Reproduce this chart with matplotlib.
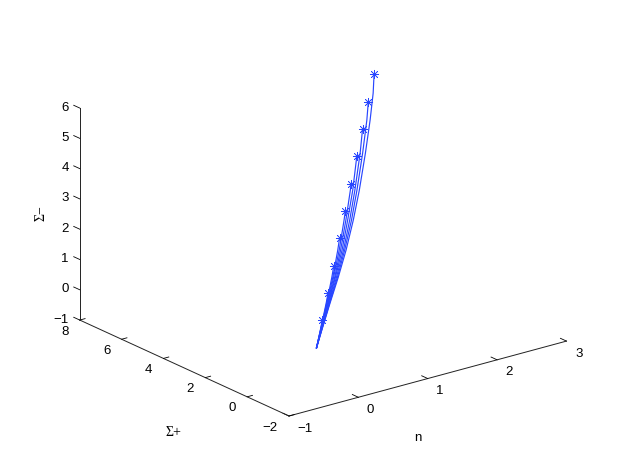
import matplotlib
matplotlib.use("Agg")
import matplotlib.pyplot as plt
from mpl_toolkits.mplot3d import proj3d

plt.rcParams['font.family'] = ['Liberation Sans', 'DejaVu Sans']
plt.rcParams['axes.unicode_minus'] = True

x_ticks = [-1, 0, 1, 2, 3]
y_ticks = [-2, 0, 2, 4, 6, 8]
z_ticks = [-1, 0, 1, 2, 3, 4, 5, 6]

n_1 = [2.70, 2.551, 2.317, 2.020, 1.676, 1.384, 1.078, .785, .494, .194, 0]
sp_1 = [6.20, 5.75, 5.12, 4.36, 3.51, 2.83, 2.16, 1.56, .99, .39, 0]
sm_1 = [5.40, 5.010, 4.462, 3.798, 3.058, 2.465, 1.878, 1.357, .859, .342, 0]
n_2 = [2.43, 2.276, 1.986, 1.648, 1.361, 1.061, .773, .488, .192, 0]
sp_2 = [5.58, 5.14, 4.38, 3.53, 2.84, 2.17, 1.56, .99, .39, 0]
sm_2 = [4.86, 4.481, 3.813, 3.071, 2.475, 1.886, 1.362, .862, .343, 0]
n_3 = [2.16, 1.953, 1.621, 1.338, 1.043, .762, .482, .190, 0]
sp_3 = [4.96, 4.39, 3.54, 2.85, 2.17, 1.57, .99, .39, 0]
sm_3 = [4.32, 3.828, 3.083, 2.486, 1.894, 1.368, .865, .344, 0]
n_4 = [1.89, 1.593, 1.315, 1.026, .750, .475, .188, 0]
sp_4 = [4.34, 3.55, 2.87, 2.18, 1.58, 1.00, .40, 0]
sm_4 = [3.78, 3.096, 2.496, 1.902, 1.373, .867, .345, 0]
n_5 = [1.62, 1.565, 1.292, 1.008, .739, .469, .186, 0]
sp_5 = [3.72, 3.57, 2.88, 2.19, 1.58, 1.00, .40, 0]
sm_5 = [3.24, 3.108, 2.507, 1.910, 1.378, .870, .346, 0]
n_6 = [1.35, 1.269, .991, .727, .463, .184, 0]
sp_6 = [3.10, 2.89, 2.20, 1.59, 1.00, .40, 0]
sm_6 = [2.70, 2.517, 1.918, 1.384, .873, .347, 0]
n_7 = [1.08, .973, .715, .457, .182, 0]
sp_7 = [2.48, 2.21, 1.59, 1.01, .40, 0]
sm_7 = [2.16, 1.925, 1.389, .876, .347, 0]
n_8 = [.81, .704, .451, .180, 0]
sp_8 = [1.86, 1.60, 1.01, .40, 0]
sm_8 = [1.62, 1.394, .879, .348, 0]
n_9 = [.54, .444, .178, 0]
sp_9 = [1.24, 1.01, .40, 0]
sm_9 = [1.08, .881, .349, 0]
n_10 = [.27, .176, 0]
sp_10 = [.62, .40, 0]
sm_10 = [.54, .350, 0]

curves = [(n_1, sp_1, sm_1), (n_2, sp_2, sm_2), (n_3, sp_3, sm_3), (n_4, sp_4, sm_4),
          (n_5, sp_5, sm_5), (n_6, sp_6, sm_6), (n_7, sp_7, sm_7), (n_8, sp_8, sm_8),
          (n_9, sp_9, sm_9), (n_10, sp_10, sm_10)]

BLUE = '#2846ff'
INK = '#222222'
FW, FH = 622, 468
fig = plt.figure(figsize=(FW / 100, FH / 100), dpi=100)
ax = fig.add_axes([0.1, 0.1, 0.8, 0.8 * FW / FH], projection='3d', proj_type='ortho')
ax.patch.set_alpha(0)
ax.view_init(elev=20.6, azim=-127.5)
ax.set_box_aspect((349, 343, 226))

for n, sp, sm in curves:
    ax.plot(n, sp, sm, color=BLUE, lw=0.85)
    ax.plot(n[:1], sp[:1], sm[:1], linestyle='none', color=BLUE,
            marker=(8, 2, 0), markersize=6.5, markeredgewidth=0.5)

ax.set_xlim(x_ticks[0], x_ticks[-1], view_margin=0)
ax.set_ylim(y_ticks[0], y_ticks[-1], view_margin=0)
ax.set_zlim(z_ticks[0], z_ticks[-1], view_margin=0)
ax.set_xticks(x_ticks)
ax.set_yticks(y_ticks)
ax.set_zticks(z_ticks)
ax.grid(False)
# z ticks point along the Σ+ direction, as in the reference
ax.zaxis._get_tickdir = lambda position: 1
tick_factor = {ax.xaxis: 0.36, ax.yaxis: 0.24, ax.zaxis: 0.36}
for axis in (ax.xaxis, ax.yaxis, ax.zaxis):
    axis.set_pane_color((1, 1, 1, 0))
    axis.pane.set_edgecolor('none')
    axis.line.set_color(INK)
    axis.line.set_linewidth(0.7)
    axis._axinfo['tick']['inward_factor'] = 0.0
    axis._axinfo['tick']['outward_factor'] = tick_factor[axis]
    axis._axinfo['tick']['linewidth'] = {True: 0.6, False: 0.6}
    axis._axinfo['tick']['color'] = INK
ax.tick_params(labelsize=9.5, pad=0)
ax.tick_params(axis='z', pad=-3.5)
plt.setp(ax.get_xticklabels(), ha='left', va='center')
plt.setp(ax.get_yticklabels(), ha='right', va='center')
plt.setp(ax.get_zticklabels(), ha='right', va='center')

fig.text(418 / FW, 1 - 438 / FH, 'n', fontsize=9.5, ha='center', va='center')
fig.text(173 / FW, 1 - 433 / FH, 'Σ+', fontsize=10, family=['Liberation Serif'],
         ha='center', va='center')
fig.text(41 / FW, 1 - 213 / FH, 'Σ−', fontsize=10, family=['Liberation Serif'],
         rotation=90, ha='center', va='center')


def pixel(x, y, z):
    fig.canvas.draw()
    px, py, _ = proj3d.proj_transform(x, y, z, ax.get_proj())
    dx, dy = ax.transData.transform((px, py))
    return dx, FH - dy


# fit the projected box to the reference frame
for _ in range(3):
    pos = ax.get_position(original=True)
    _, top = pixel(-1, -2, 6)
    cx, cy = pixel(-1, -2, -1)
    k = 212 / (cy - top)
    w = pos.width * k
    h = pos.height * k
    ax.set_position([pos.x0, pos.y0, w, h])
    cx, cy = pixel(-1, -2, -1)
    ax.set_position([pos.x0 + (289 - cx) / FW, pos.y0 + (cy - 416) / FH, w, h])

fig.savefig('out.png', dpi=100)
